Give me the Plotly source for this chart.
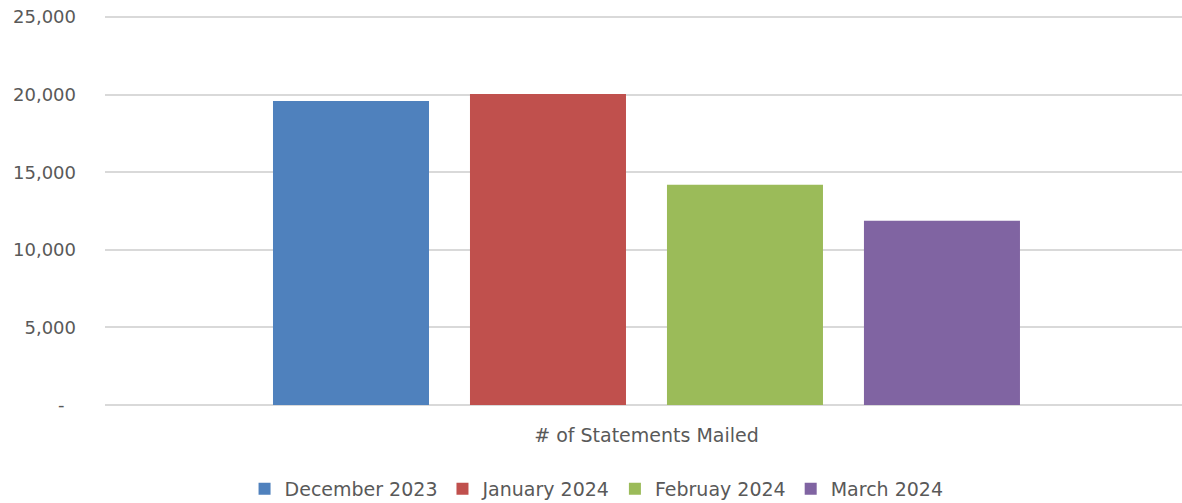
import plotly.graph_objects as go

category = ["# of Statements Mailed"]
series_names = ["December 2023", "January 2024", "Februay 2024", "March 2024"]
series_values = [19600, 20050, 14200, 11870]
series_colors = ["#4F81BD", "#C0504D", "#9BBB59", "#8064A2"]
y_tickvals = [0, 5000, 10000, 15000, 20000, 25000]
y_ticktext = ["-\u00a0\u00a0", "5,000", "10,000", "15,000", "20,000", "25,000"]

FONT = "DejaVu Sans"
TXT = "#595959"

fig = go.Figure()
for name, val, col in zip(series_names, series_values, series_colors):
    fig.add_trace(go.Bar(x=category, y=[val], name=name, marker=dict(color=col, line=dict(width=0))))

fig.update_layout(
    width=1182, height=503,
    margin=dict(l=105, r=0, t=14, b=98),
    paper_bgcolor="white", plot_bgcolor="white",
    barmode="group", bargap=0.2724, bargroupgap=0.208,
    font=dict(family=FONT, size=19, color=TXT),
    showlegend=True,
    legend=dict(orientation="h", xref="container", yref="container",
                x=0.5047, xanchor="center", y=1 - 489 / 503, yanchor="middle",
                font=dict(family=FONT, size=19, color=TXT), itemsizing="constant",
                traceorder="normal"),
)
fig.update_xaxes(range=[-0.5, 0.4945], showgrid=False, zeroline=False, showline=False,
                 ticks="", ticklabelstandoff=17, tickfont=dict(size=19, color=TXT))
fig.update_yaxes(range=[0, 25200], tickvals=y_tickvals, ticktext=y_ticktext,
                 showgrid=True, gridcolor="#D9D9D9", gridwidth=2,
                 zeroline=True, zerolinecolor="#D9D9D9", zerolinewidth=2,
                 showline=False, ticks="", ticklabelstandoff=28,
                 tickfont=dict(size=18, color=TXT))

fig.write_html("out.html", config={"displayModeBar": False},
               post_script="document.body.style.margin='0';document.body.style.padding='0';")
